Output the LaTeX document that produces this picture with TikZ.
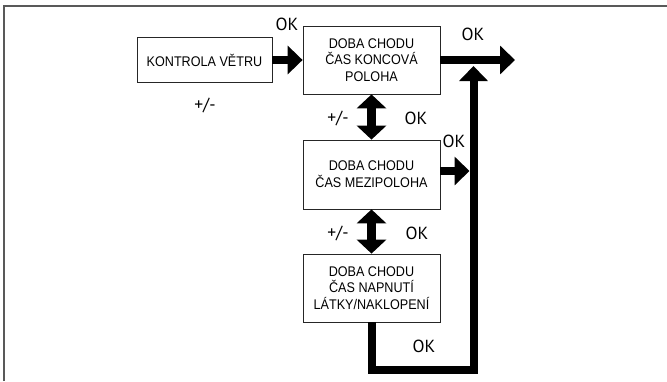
\documentclass[tikz,border=0pt]{standalone}
\usepackage{fontspec}
\setmainfont{Liberation Sans}
\newfontfamily\boxfont[FakeStretch=0.9]{Liberation Sans}
\newfontfamily\okfont{PT Sans}
\usepackage{tikz}
\usetikzlibrary{arrows.meta}
\tikzstyle{every picture}+=[x=1pt,y=-1pt]
\tikzstyle{fat}=[line width=8pt,-{Triangle[length=15pt,width=28pt]}]
\tikzstyle{fatboth}=[line width=9pt,{Triangle[length=14pt,width=29pt]}-{Triangle[length=14pt,width=29pt]}]
\newcommand{\boxnode}{\node[draw=black!85,line width=0.8pt,minimum width=137pt,minimum height=68pt,align=center,font=\boxfont\fontsize{14}{16.7}\selectfont]}
\newcommand{\oknode}{\node[font=\okfont\fontsize{17.5}{17.5}\selectfont]}

\begin{document}
\begin{tikzpicture}
        \useasboundingbox (0,0) rectangle (667,381);
        \draw[black!65,line width=1.3pt] (4,381) -- (4,6) -- (667,6); % frame
        \boxnode[minimum width=135pt,minimum height=45pt] (wind) at (204.5,60) {KONTROLA VĚTRU};
        \boxnode (endpos) at (371.5,60) {DOBA CHODU\\ČAS KONCOVÁ\\POLOHA};
        \boxnode[minimum height=69pt] (midpos) at (371.5,174.5) {DOBA CHODU\\ČAS MEZIPOLOHA};
        \boxnode (tension) at (371.5,288) {DOBA CHODU\\ČAS NAPNUTÍ\\LÁTKY/NAKLOPENÍ};
        \coordinate (out) at (515,60);
        \coordinate (join) at (473.5,66);
        \coordinate (rail) at (469.5,171);
        \coordinate (bend) at (473.5,370);
        \draw[fat] (wind) -- (endpos);
        \draw[fat] (endpos) -- (out);
        \draw[fat] (midpos.east |- rail) -- (rail);
        \draw[fat] (tension.south) |- (bend) -- (join);
        \draw[fatboth] (endpos) -- (midpos);
        \draw[fatboth] (midpos) -- (tension);
        \oknode (ok1) at (287,24) {OK};
        \oknode (ok2) at (473,34) {OK};
        \oknode (ok3) at (416,118) {OK};
        \oknode (ok4) at (454,141) {OK};
        \oknode (ok5) at (417,233) {OK};
        \oknode (ok6) at (424,346) {OK};
        \oknode (pm1) at (205,105) {+/-};
        \oknode (pm2) at (338,118) {+/-};
        \oknode (pm3) at (338,233) {+/-};
      \end{tikzpicture}
\end{document}
